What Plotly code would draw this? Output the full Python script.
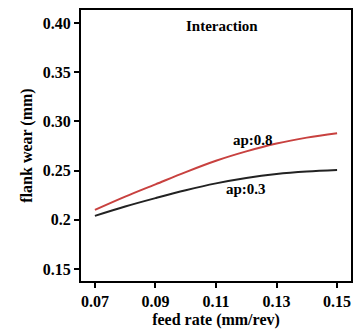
import plotly.graph_objects as go

# Feed rate (mm/rev) and predicted flank wear (mm) for two depths of cut
feed_rate = [0.07, 0.08, 0.09, 0.10, 0.11, 0.12, 0.13, 0.14, 0.15]
wear_ap08 = [0.210, 0.2235, 0.236, 0.2485, 0.260, 0.2695, 0.2775, 0.2835, 0.288]
wear_ap03 = [0.204, 0.2135, 0.222, 0.230, 0.237, 0.2425, 0.2465, 0.249, 0.2505]

x_ticks = [0.07, 0.09, 0.11, 0.13, 0.15]
x_tick_text = ["0.07", "0.09", "0.11", "0.13", "0.15"]
y_ticks = [0.15, 0.20, 0.25, 0.30, 0.35, 0.40]
y_tick_text = ["0.15", "0.2", "0.25", "0.30", "0.35", "0.40"]

FONT = "Liberation Serif"

fig = go.Figure()
fig.add_trace(go.Scatter(x=feed_rate, y=wear_ap08, mode="lines", line_shape="spline",
                         line=dict(color="#c8413f", width=2), name="ap:0.8"))
fig.add_trace(go.Scatter(x=feed_rate, y=wear_ap03, mode="lines", line_shape="spline",
                         line=dict(color="#222222", width=2), name="ap:0.3"))

fig.add_annotation(x=0.112, y=0.397, text="<b>Interaction</b>", showarrow=False,
                   font=dict(family=FONT, size=15, color="black"))
fig.add_annotation(x=0.1221, y=0.2811, text="<b>ap:0.8</b>", showarrow=False,
                   font=dict(family=FONT, size=15, color="black"))
fig.add_annotation(x=0.1198, y=0.2313, text="<b>ap:0.3</b>", showarrow=False,
                   font=dict(family=FONT, size=15, color="black"))

axis_common = dict(showgrid=False, zeroline=False, showline=True, linecolor="black",
                   linewidth=2, mirror=True, ticks="outside", ticklen=5, tickwidth=1.5,
                   tickcolor="black",
                   tickfont=dict(family=FONT, size=16, color="black"))

fig.update_xaxes(range=[0.0654, 0.1546], tickvals=x_ticks, ticktext=[f"<b>{t}</b>" for t in x_tick_text],
                 title=dict(text="<b>feed rate (mm/rev)</b>", standoff=5,
                            font=dict(family=FONT, size=16, color="black")),
                 **axis_common)
fig.update_yaxes(range=[0.1378, 0.4132], tickvals=y_ticks, ticktext=[f"<b>{t}</b>" for t in y_tick_text],
                 title=dict(text="<b>flank wear (mm)</b>", standoff=6,
                            font=dict(family=FONT, size=16, color="black")),
                 **axis_common)

fig.update_layout(width=357, height=331, margin=dict(l=81, r=4, t=10, b=50),
                  plot_bgcolor="white", paper_bgcolor="white", showlegend=False)

fig.write_html("out.html")
